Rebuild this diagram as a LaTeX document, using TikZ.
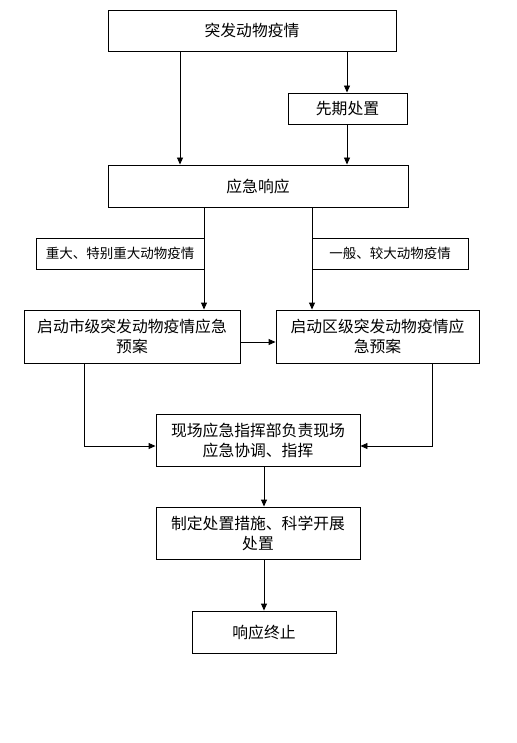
\documentclass[tikz,border=0pt]{standalone}
\usepackage{fontspec}
\setmainfont{Noto Sans CJK SC}
\usetikzlibrary{arrows.meta}
\tikzset{
  box/.style={draw=black, line width=0.9pt, fill=white, inner sep=0pt, align=center, font=\fontsize{15.8}{20}\selectfont},
  lab/.style={box, font=\fontsize{13.5}{18}\selectfont},
  arr/.style={draw=black, line width=0.9pt, -{Triangle[length=7pt,width=6pt]}},
  ln/.style={draw=black, line width=0.9pt}
}
\begin{document}
\begin{tikzpicture}[x=1pt,y=-1pt]
\useasboundingbox[fill=white] (0,0) rectangle (516,743);
\node[box, minimum width=288pt, minimum height=41pt] (top) at (252,30.5) {突发动物疫情};
\node[box, minimum width=119pt, minimum height=31pt] (pre) at (347.5,108.5) {先期处置};
\node[box, minimum width=300pt, minimum height=42pt] (resp) at (258,186) {应急响应};
\node[lab, minimum width=168pt, minimum height=31pt] (lab1) at (120,253.5) {重大、特别重大动物疫情};
\node[lab, minimum width=156pt, minimum height=31pt] (lab2) at (390,253.5) {一般、较大动物疫情};
\node[box, minimum width=216pt, minimum height=53pt] (city) at (132,336.5) {启动市级突发动物疫情应急\\预案};
\node[box, minimum width=203pt, minimum height=53pt] (dist) at (377.5,336.5) {启动区级突发动物疫情应\\急预案};
\node[box, minimum width=204pt, minimum height=52pt] (site) at (258,440) {现场应急指挥部负责现场\\应急协调、指挥};
\node[box, minimum width=204pt, minimum height=52pt] (plan) at (258,533) {制定处置措施、科学开展\\处置};
\node[box, minimum width=144pt, minimum height=42pt] (end) at (264,632) {响应终止};
\coordinate (xa) at (180,0);
\coordinate (xb) at (347,0);
\coordinate (xc) at (204,0);
\coordinate (xd) at (312,0);
\coordinate (xe) at (84,0);
\coordinate (xf) at (432,0);
\coordinate (xg) at (264,0);
\coordinate (yh) at (0,342);
\coordinate (ys) at (0,446);
\draw[arr] (top.south -| xa) -- (resp.north -| xa);
\draw[arr] (top.south -| xb) -- (pre.north -| xb);
\draw[arr] (pre.south -| xb) -- (resp.north -| xb);
\draw[arr] (resp.south -| xc) -- (city.north -| xc);
\draw[arr] (resp.south -| xd) -- (dist.north -| xd);
\draw[arr] (city.east |- yh) -- (dist.west |- yh);
\draw[arr] (city.south -| xe) |- (site.west |- ys);
\draw[arr] (dist.south -| xf) |- (site.east |- ys);
\draw[arr] (site.south -| xg) -- (plan.north -| xg);
\draw[arr] (plan.south -| xg) -- (end.north -| xg);
\end{tikzpicture}
\end{document}
